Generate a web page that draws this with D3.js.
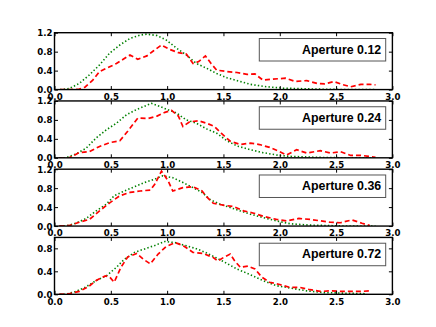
<!DOCTYPE html>
<html><head><meta charset="utf-8">
<script src="https://cdn.jsdelivr.net/npm/d3@7"></script>
<style>html,body{margin:0;padding:0;background:#fff;}svg{display:block;}</style>
</head><body>
<script>
const apertureLabels = ["Aperture 0.12", "Aperture 0.24", "Aperture 0.36", "Aperture 0.72"];
const yMaxes = [1.2, 1.2, 1.2, 0.99];
const xTicks = [0.0, 0.5, 1.0, 1.5, 2.0, 2.5, 3.0];
const yTicks = [0.0, 0.4, 0.8, 1.2];

const red1X = [0.05,0.15,0.22,0.27,0.34,0.40,0.49,0.55,0.61,0.67,0.74,0.82,0.88,0.95,1.02,1.10,1.17,1.23,1.28,1.34,1.39,1.44,1.53,1.62,1.71,1.78,1.85,1.94,2.05,2.14,2.24,2.33,2.40,2.48,2.55,2.63,2.72,2.80,2.85];
const red1Y = [0,0,0.01,0.05,0.2,0.38,0.48,0.55,0.64,0.73,0.64,0.71,0.82,0.94,0.85,0.78,0.75,0.55,0.59,0.71,0.55,0.41,0.38,0.36,0.32,0.33,0.2,0.22,0.24,0.17,0.19,0.13,0.12,0.17,0.11,0.06,0.11,0.11,0.10];
const green1X = [0.05,0.13,0.22,0.31,0.40,0.49,0.58,0.67,0.76,0.82,0.91,0.99,1.08,1.17,1.26,1.35,1.44,1.53,1.65,1.74,1.88,2.03,2.33,2.6,2.85];
const green1Y = [0,0.02,0.13,0.31,0.52,0.77,0.94,1.08,1.15,1.17,1.14,1.05,0.88,0.73,0.55,0.45,0.34,0.25,0.17,0.11,0.06,0.03,0.01,0,0];

const red2X = [0.04,0.13,0.22,0.31,0.40,0.49,0.58,0.65,0.74,0.83,0.91,0.98,1.04,1.10,1.14,1.20,1.28,1.35,1.42,1.48,1.56,1.65,1.74,1.82,1.91,2.0,2.06,2.15,2.24,2.36,2.45,2.54,2.63,2.72,2.80,2.85];
const red2Y = [0,0,0.11,0.13,0.24,0.32,0.36,0.56,0.84,0.83,0.88,0.96,1.0,0.88,0.66,0.76,0.78,0.73,0.66,0.52,0.35,0.28,0.31,0.28,0.22,0.13,0.06,0.17,0.10,0.15,0.10,0.13,0.05,0.05,0.03,0.01];
const green2X = [0.05,0.10,0.19,0.28,0.37,0.46,0.55,0.64,0.73,0.82,0.86,0.93,1.02,1.08,1.17,1.26,1.35,1.44,1.53,1.62,1.74,1.85,1.97,2.09,2.33,2.6,2.85];
const green2Y = [0,0,0.08,0.2,0.42,0.59,0.73,0.91,1.02,1.11,1.15,1.09,1.0,0.95,0.8,0.73,0.61,0.52,0.36,0.25,0.17,0.11,0.06,0.03,0.01,0,0];

const red3X = [0.04,0.13,0.22,0.31,0.40,0.49,0.58,0.67,0.76,0.85,0.89,0.95,1.01,1.05,1.14,1.23,1.31,1.35,1.41,1.50,1.59,1.68,1.77,1.85,1.97,2.06,2.17,2.27,2.36,2.45,2.54,2.64,2.73,2.80];
const red3Y = [0,0.01,0.08,0.14,0.32,0.49,0.64,0.71,0.74,0.76,0.88,1.16,0.95,0.74,0.81,0.83,0.74,0.62,0.48,0.44,0.41,0.32,0.27,0.21,0.14,0.11,0.16,0.14,0.11,0.08,0.07,0.13,0.06,0.01];
const green3X = [0.05,0.10,0.19,0.28,0.37,0.46,0.53,0.62,0.71,0.80,0.89,0.96,1.05,1.14,1.23,1.31,1.38,1.47,1.56,1.65,1.74,1.85,1.97,2.09,2.27,2.6,2.85];
const green3Y = [0,0,0.06,0.16,0.32,0.46,0.64,0.74,0.83,0.92,0.99,1.06,1.02,0.92,0.81,0.71,0.56,0.46,0.39,0.32,0.25,0.18,0.11,0.05,0.02,0,0];

const red4X = [0.04,0.13,0.22,0.30,0.37,0.45,0.49,0.53,0.59,0.65,0.73,0.79,0.85,0.92,0.99,1.07,1.14,1.23,1.32,1.41,1.45,1.50,1.56,1.60,1.65,1.72,1.78,1.84,1.91,2.00,2.09,2.18,2.27,2.36,2.45,2.54,2.63,2.72,2.80];
const red4Y = [0,0.01,0.05,0.13,0.24,0.32,0.30,0.21,0.47,0.65,0.71,0.61,0.53,0.70,0.83,0.90,0.85,0.73,0.71,0.64,0.58,0.64,0.70,0.58,0.47,0.49,0.44,0.30,0.21,0.17,0.12,0.12,0.08,0.05,0.06,0.05,0.05,0.05,0.06];
const green4X = [0.05,0.10,0.19,0.28,0.37,0.46,0.55,0.62,0.71,0.80,0.89,0.98,1.07,1.16,1.25,1.34,1.43,1.51,1.62,1.74,1.85,1.97,2.09,2.24,2.39,2.57,2.77];
const green4Y = [0,0,0.05,0.13,0.24,0.32,0.47,0.61,0.73,0.79,0.85,0.92,0.90,0.85,0.80,0.73,0.64,0.56,0.44,0.34,0.24,0.15,0.11,0.06,0.03,0.02,0.01];

const redXs = [red1X, red2X, red3X, red4X];
const redYs = [red1Y, red2Y, red3Y, red4Y];
const greenXs = [green1X, green2X, green3X, green4X];
const greenYs = [green1Y, green2Y, green3Y, green4Y];

const W = 436, H = 327;
const plotLeft = 54.5, plotRight = 392.4, plotTop = 32.7, plotBottom = 294.3;
const nP = 4, hspace = 0.2;
const ph = (plotBottom - plotTop) / (nP + (nP - 1) * hspace);
const gap = ph * hspace;

const svg = d3.select("body").append("svg").attr("width", W).attr("height", H);
const x = d3.scaleLinear().domain([0, 3]).range([plotLeft, plotRight]);
const tickFont = "'DejaVu Sans', sans-serif";
const tl = 3.5;

for (let i = 0; i < nP; i++) {
  const y0 = plotTop + i * (ph + gap), y1 = y0 + ph;
  const y = d3.scaleLinear().domain([0, yMaxes[i]]).range([y1, y0]);
  const g = svg.append("g");
  const clipId = "clip" + i;
  svg.append("clipPath").attr("id", clipId).append("rect")
    .attr("x", plotLeft).attr("y", y0).attr("width", plotRight - plotLeft).attr("height", ph);

  const line = d3.line().x(d => x(d[0])).y(d => y(d[1]));
  const gd = greenXs[i].map((v, k) => [v, greenYs[i][k]]);
  const rd = redXs[i].map((v, k) => [v, redYs[i][k]]);
  g.append("path").attr("d", line(gd)).attr("clip-path", `url(#${clipId})`)
    .attr("fill", "none").attr("stroke", "#008000").attr("stroke-width", 1.6)
    .attr("stroke-dasharray", "1.4,2.2");
  g.append("path").attr("d", line(rd)).attr("clip-path", `url(#${clipId})`)
    .attr("fill", "none").attr("stroke", "#ff0000").attr("stroke-width", 1.7)
    .attr("stroke-dasharray", "5,3");

  const yt = yTicks.filter(t => t <= yMaxes[i] + 1e-9);
  const axB = d3.axisBottom(x).tickValues(xTicks).tickSizeInner(-tl).tickSizeOuter(0).tickFormat(d3.format(".1f"));
  const axT = d3.axisTop(x).tickValues(xTicks).tickSizeInner(-tl).tickSizeOuter(0).tickFormat("");
  const axL = d3.axisLeft(y).tickValues(yt).tickSizeInner(-tl).tickSizeOuter(0).tickFormat(d3.format(".1f"));
  const axR = d3.axisRight(y).tickValues(yt).tickSizeInner(-tl).tickSizeOuter(0).tickFormat("");

  const gb = g.append("g").attr("transform", `translate(0,${y1})`).call(axB);
  const gt = g.append("g").attr("transform", `translate(0,${y0})`).call(axT);
  const gl = g.append("g").attr("transform", `translate(${plotLeft},0)`).call(axL);
  const gr = g.append("g").attr("transform", `translate(${plotRight},0)`).call(axR);
  [gb, gt, gl, gr].forEach(a => {
    a.select(".domain").remove();
    a.selectAll(".tick line").attr("stroke", "#000").attr("stroke-width", 1);
    a.selectAll("text").attr("font-family", tickFont).attr("font-weight", "bold")
      .attr("font-size", "8.6px").attr("fill", "#000");
  });
  gb.selectAll("text").attr("y", 4.2).attr("dy", "0.71em");
  gl.selectAll("text").attr("x", -2).attr("dy", "0.35em");

  g.append("rect").attr("x", plotLeft).attr("y", y0).attr("width", plotRight - plotLeft).attr("height", ph)
    .attr("fill", "none").attr("stroke", "#000").attr("stroke-width", 1.4);

  const lx0 = 259.3, lx1 = 385.7, ly0 = y0 + 5.8, lh = 22.5;
  g.append("rect").attr("x", lx0).attr("y", ly0).attr("width", lx1 - lx0).attr("height", lh)
    .attr("fill", "#fff").attr("stroke", "#555").attr("stroke-width", 1);
  g.append("text").attr("x", lx1 - 4.5).attr("y", ly0 + 15.2).attr("text-anchor", "end")
    .attr("font-family", "'Liberation Sans', Arial, sans-serif").attr("font-weight", "bold")
    .attr("font-size", "12.4px").attr("fill", "#000").text(apertureLabels[i]);
}
</script>
</body></html>
